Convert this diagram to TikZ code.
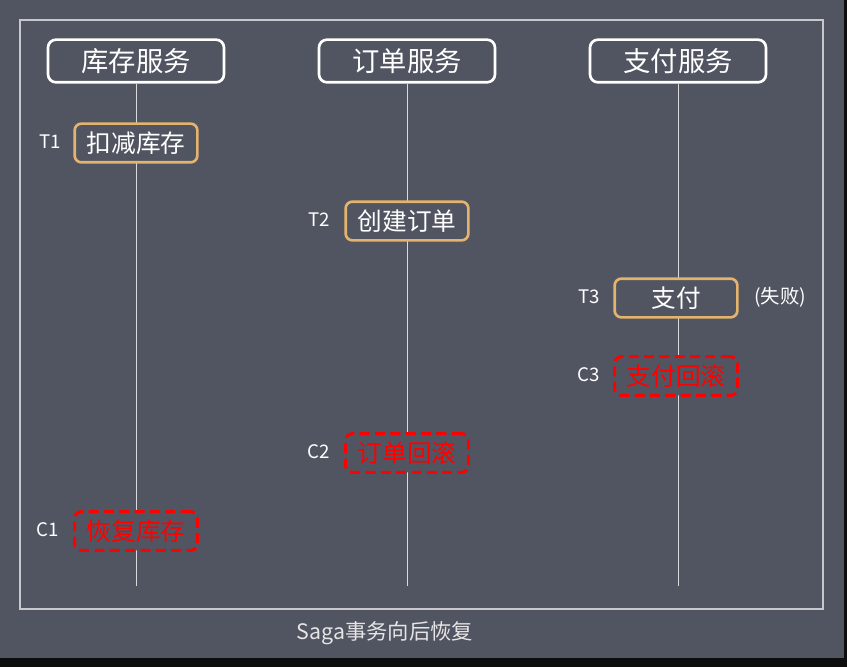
\documentclass[tikz,border=0pt]{standalone}
\usepackage{fontspec}
\setmainfont{Noto Sans CJK SC}
\definecolor{bgdark}{RGB}{81,85,97}
\definecolor{framegray}{RGB}{200,200,204}
\definecolor{steporange}{RGB}{228,180,110}
\definecolor{comred}{RGB}{255,0,0}
\begin{document}
\begin{tikzpicture}[
    x=0.75pt, y=-0.75pt,
    svc/.style={
        draw=white,
        line width=2pt,
        rounded corners=6pt,
        fill=bgdark,
        minimum width=132pt,
        minimum height=32pt,
        text=white,
        font=\fontsize{20.5}{24}\selectfont
    },
    txn/.style={
        draw=steporange,
        line width=2pt,
        rounded corners=5pt,
        fill=bgdark,
        minimum width=92pt,
        minimum height=29pt,
        text=white,
        font=\fontsize{18.5}{22}\selectfont
    },
    comp/.style={
        txn,
        draw=comred,
        line width=2.3pt,
        dash pattern=on 7.5pt off 4pt,
        text=comred
    },
    lbl/.style={text=white, font=\fontsize{14}{16}\selectfont},
    life/.style={draw=white!85!black, line width=0.6pt}
]
    % background and frame
    \fill[black!95] (0,0) rectangle (847,667);
    \fill[bgdark] (0,0) rectangle (844,658);
    \draw[framegray, line width=1pt] (20,20) rectangle (823,609);

    % services
    \node[svc] (stock) at (136,61) {库存服务};
    \node[svc] (order) at (407,61) {订单服务};
    \node[svc] (pay)   at (678,61) {支付服务};

    \coordinate (stockEnd) at (136,586);
    \coordinate (orderEnd) at (407,586);
    \coordinate (payEnd)   at (678,586);
    \draw[life] (stock) -- (stockEnd);
    \draw[life] (order) -- (orderEnd);
    \draw[life] (pay) -- (payEnd);

    % forward steps
    \node[txn] (t1) at (136,143) {扣减库存};
    \node[txn] (t2) at (407,221) {创建订单};
    \node[txn] (t3) at (676,298) {支付};
    \node[lbl] at (50,142) {T1};
    \node[lbl] at (319,220) {T2};
    \node[lbl] at (589,297) {T3};
    \node[lbl, font=\fontsize{14.5}{18}\selectfont] at (780,297) {(失败)};

    % compensations
    \node[comp] (c3) at (676,376) {支付回滚};
    \node[comp] (c2) at (407,453) {订单回滚};
    \node[comp] (c1) at (136,531) {恢复库存};
    \node[lbl] at (589,375) {C3};
    \node[lbl] at (319,452) {C2};
    \node[lbl] at (48,530) {C1};

    \node[text=white!90!black, font=\fontsize{16}{20}\selectfont] (cap) at (385,633) {Saga事务向后恢复};
\end{tikzpicture}
\end{document}
